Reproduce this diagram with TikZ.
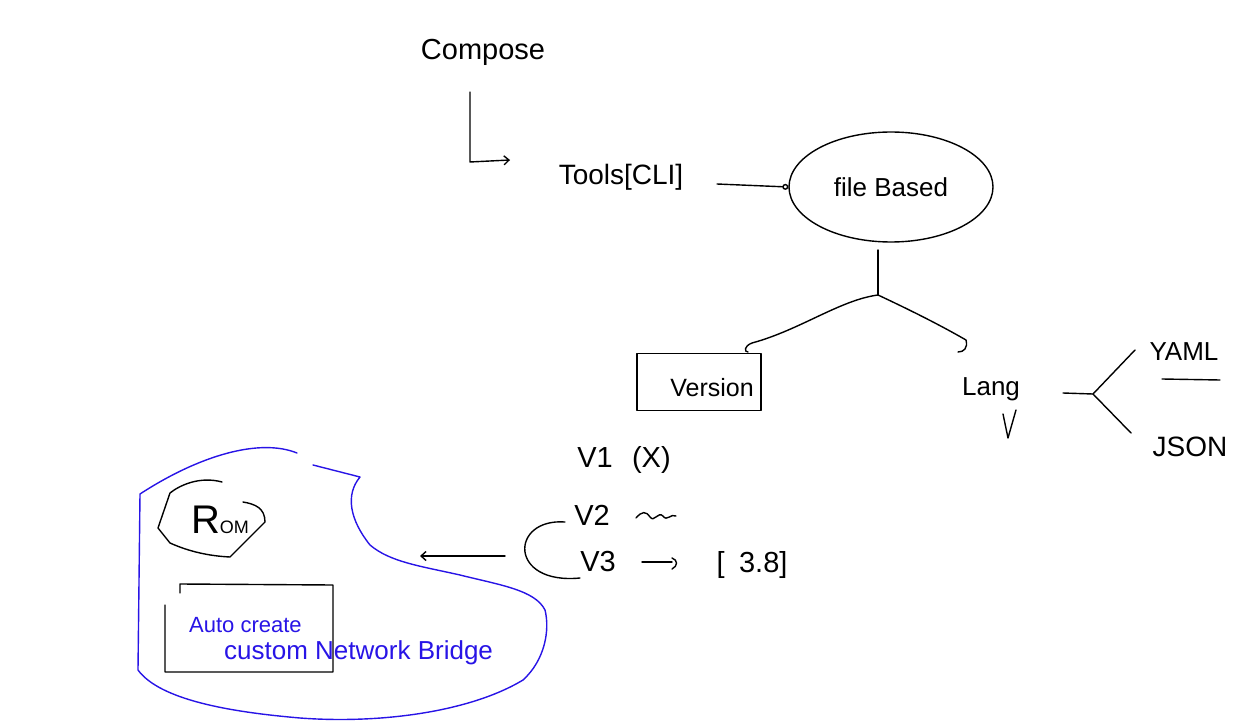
\documentclass[tikz,border=0pt]{standalone}
\usepackage{fontspec}
\setmainfont{Liberation Sans}
\usetikzlibrary{shapes.geometric,arrows.meta}
\definecolor{inkblue}{RGB}{40,20,230}
\tikzset{
  ink/.style={draw=black,line width=1.4pt,line cap=round,line join=round},
  blueink/.style={draw=inkblue,line width=1.4pt,line cap=round,line join=round},
  lbl/.style={inner sep=0pt,font=\fontsize{26}{28}\selectfont},
  biglbl/.style={inner sep=0pt,font=\fontsize{29}{31}\selectfont},
  bluelbl/.style={inner sep=0pt,text=inkblue},
  barb/.style={-{Straight Barb[length=5pt,width=9pt]}}
}
\begin{document}
\begin{tikzpicture}[x=1pt,y=-1pt]
\useasboundingbox (0,0) rectangle (1256,722);
% top part
\node[biglbl] (compose) at (483,52) {Compose};
\node[lbl,font=\fontsize{28}{30}\selectfont] (tools) at (621,177) {Tools[CLI]};
\node[ellipse,ink,minimum width=204pt,minimum height=110pt,inner sep=0pt] (fb) at (891,187) {};
\node[lbl] at (fb.center) {file Based};
\coordinate (cturn) at (470,162);
\coordinate (cend) at (510,160);
\draw[ink,barb] (470,92) -- (cturn) -- (cend);
\draw[ink,-{Circle[open,length=6pt]}] (717,184) -- (fb.west);
% branches
\coordinate (jn) at (878,295);
\node[ink,rectangle,minimum width=124pt,minimum height=57pt,inner sep=0pt] (ver) at (699,382) {};
\node[lbl,font=\fontsize{25}{27}\selectfont] at (712,388) {Version};
\node[lbl] (lang) at (991,389) {Lang};
\draw[ink] (878,250) -- (jn);
\draw[ink] (jn) .. controls (840,300) and (800,330) .. (752,343) .. controls (744,346) and (744,352) .. (748,352);
\draw[ink] (jn) .. controls (910,310) and (940,325) .. (966,340) .. controls (968,348) and (964,352) .. (958,352);
\draw[ink] (1003,414) -- (1008,438) -- (1016,410);
% YAML / JSON
\coordinate (yj) at (1093,394);
\node[lbl] (yaml) at (1184,352) {YAML};
\node[lbl,font=\fontsize{28}{30}\selectfont] (json) at (1190,447) {JSON};
\draw[ink] (1063,393) -- (yj);
\draw[ink] (yj) -- (1135,350);
\draw[ink] (yj) -- (1131,433);
\draw[ink] (1162,379) -- (1220,380);
% versions
\node[biglbl] (v1) at (624,460) {V1\enspace\,(X)};
\node[biglbl] (v2) at (592,515) {V2};
\draw[ink] (636,518) .. controls (642,511) and (646,511) .. (650,517) .. controls (654,523) and (658,511) .. (663,516) .. controls (667,522) and (671,513) .. (676,516);
\node[biglbl] (v3) at (598,562) {V3};
\node[biglbl] (val) at (752,565) {[\enspace3.8]};
\draw[ink] (642,562) -- (672,562);
\draw[ink] (672,558) .. controls (678,560) and (678,566) .. (672,569);
\coordinate (brtop) at (565,522);
\coordinate (brbot) at (580,578);
\draw[ink] (brtop) .. controls (510,518) and (508,585) .. (brbot);
\coordinate (arrS) at (505,556);
\coordinate (arrE) at (420,556);
\draw[ink,barb] (arrS) -- (arrE);
% blue blob
\draw[blueink] (297,453) .. controls (260,438) and (200,455) .. (140,494) -- (138,670) .. controls (160,700) and (230,712) .. (300,718) .. controls (380,724) and (470,712) .. (523,680) .. controls (545,660) and (550,630) .. (545,610) .. controls (535,590) and (500,585) .. (460,575) .. controls (420,566) and (390,562) .. (370,545) .. controls (350,520) and (345,495) .. (360,477) -- (313,465);
% ROM
\draw[ink] (222,482) .. controls (200,476) and (180,485) .. (170,493) -- (158,528) -- (170,543) .. controls (190,552) and (210,556) .. (230,557) -- (265,522);
\draw[ink] (243,502) .. controls (255,504) and (265,508) .. (265,522);
\node[inner sep=0pt] (rom) at (220,520) {\fontsize{40}{42}\selectfont R\fontsize{18}{20}\selectfont OM};
% box
\draw[ink] (180,593) -- (180,584) -- (333,585) -- (333,672) -- (165,672) -- (165,605);
\node[bluelbl,anchor=west,font=\fontsize{22}{24}\selectfont] (auto) at (189,625) {Auto create};
\node[bluelbl,anchor=west,font=\fontsize{26}{28}\selectfont] (cnb) at (224,653) {custom Network Bridge};
\end{tikzpicture}
\end{document}
